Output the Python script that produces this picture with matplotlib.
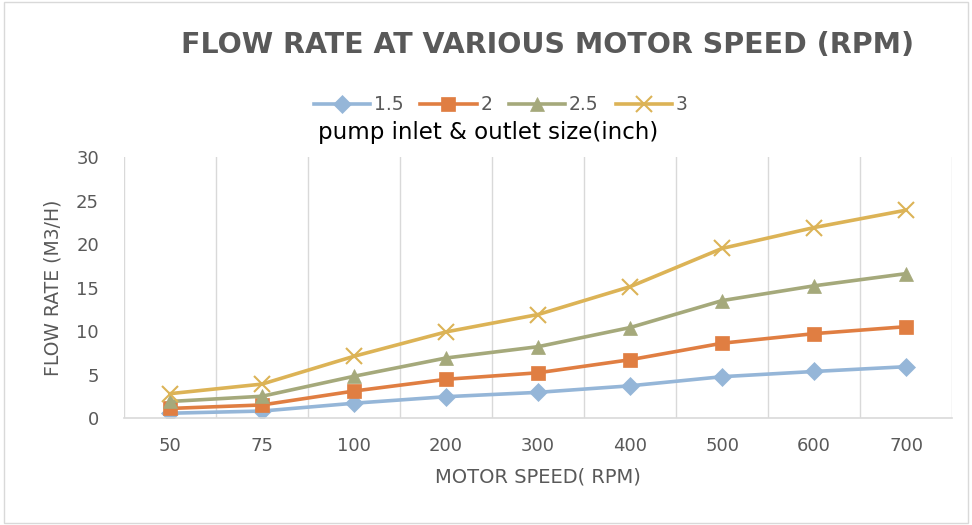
import matplotlib.pyplot as plt
from matplotlib.patches import Rectangle

# motor speed categories (rpm)
speeds = ["50", "75", "100", "200", "300", "400", "500", "600", "700"]

# flow rate (m3/h) per pump inlet & outlet size (inch)
flow_15 = [0.55, 0.8, 1.7, 2.45, 2.95, 3.7, 4.75, 5.35, 5.9]
flow_2 = [1.1, 1.5, 3.1, 4.45, 5.2, 6.7, 8.6, 9.7, 10.5]
flow_25 = [1.9, 2.5, 4.8, 6.9, 8.2, 10.4, 13.5, 15.2, 16.6]
flow_3 = [2.8, 3.9, 7.1, 9.9, 11.9, 15.1, 19.5, 21.9, 23.9]

sizes = ["1.5", "2", "2.5", "3"]
colors = ["#95b6d8", "#e07e42", "#a5a97b", "#dcb356"]
markers = ["D", "s", "^", "x"]
msizes = [9, 10, 10, 11]

grey = "#595959"

fig = plt.figure(figsize=(9.72, 5.25), dpi=100)
fig.patches.append(Rectangle((0.004, 0.004), 0.992, 0.992, transform=fig.transFigure,
                             fill=False, edgecolor="#d9d9d9", linewidth=1))
ax = fig.add_axes([0.1276, 0.2038, 0.852, 0.497])

x = list(range(len(speeds)))
series = [flow_15, flow_2, flow_25, flow_3]
lines = []
for vals, lab, c, m, ms in zip(series, sizes, colors, markers, msizes):
    ln, = ax.plot(x, vals, color=c, lw=2.6, marker=m, markersize=ms,
                  markeredgewidth=1.5 if m == "x" else 0.5, label=lab)
    lines.append(ln)

ax.set_xlim(-0.5, 8.5)
ax.set_ylim(0, 30)
ax.set_yticks([0, 5, 10, 15, 20, 25, 30])
ax.set_xticks(x)
ax.set_xticklabels(speeds)
ax.set_xticks([i - 0.5 for i in range(len(speeds) + 1)], minor=True)
ax.grid(which="minor", axis="x", color="#d9d9d9", lw=1)
ax.tick_params(which="both", length=0)
ax.tick_params(axis="y", labelsize=13, labelcolor=grey, pad=18)
ax.tick_params(axis="x", labelsize=13, labelcolor=grey, pad=14)
for s in ["top", "right", "left"]:
    ax.spines[s].set_visible(False)
ax.spines["bottom"].set_color("#d9d9d9")
ax.spines["bottom"].set_linewidth(1.2)

ax.set_ylabel("FLOW RATE (M3/H)", fontsize=13.5, color=grey, labelpad=10)
ax.set_xlabel("MOTOR SPEED( RPM)", fontsize=14, color=grey, labelpad=9)

fig.text(0.563, 0.915, "FLOW RATE AT VARIOUS MOTOR SPEED (RPM)", ha="center", va="center",
         fontsize=20.5, fontweight="bold", color=grey)

leg = fig.legend(handles=lines, loc="center", bbox_to_anchor=(0.515, 0.8), ncol=4,
                 frameon=False, fontsize=13.5, handlelength=3.0, columnspacing=0.9,
                 handletextpad=0.2, borderaxespad=0)
for t in leg.get_texts():
    t.set_color(grey)
fig.text(0.502, 0.748, "pump inlet & outlet size(inch)", ha="center", va="center",
         fontsize=16.5, color="black")

fig.savefig("out.png", dpi=100)
